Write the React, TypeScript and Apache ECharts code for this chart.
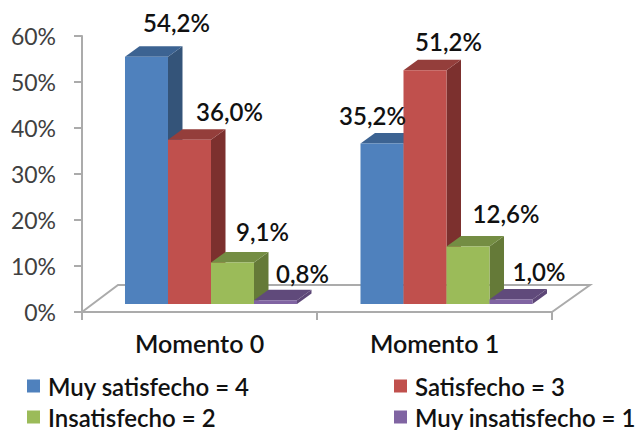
import React, { useEffect, useRef } from "react";
import * as echarts from "echarts";

const categories = ["Momento 0", "Momento 1"];
const yTicks = { min: 0, max: 60, interval: 10 };
const muySatisfecho = [54.2, 35.2];
const satisfecho = [36.0, 51.2];
const insatisfecho = [9.1, 12.6];
const muyInsatisfecho = [0.8, 1.0];
const seriesNames = ["Muy satisfecho = 4", "Satisfecho = 3", "Insatisfecho = 2", "Muy insatisfecho = 1"];
const seriesValues = [muySatisfecho, satisfecho, insatisfecho, muyInsatisfecho];

const faceColors = [
  { front: "#4f81bd", top: "#3c6392", side: "#345479" },
  { front: "#c0504d", top: "#943e3b", side: "#7c302e" },
  { front: "#9bbb59", top: "#748d43", side: "#657a38" },
  { front: "#8064a2", top: "#604a7b", side: "#5d4777" },
];

// label nudges [dx, dy] from each bar's top-centre, per series then per category
const labelNudges = [
  [[30, -34], [-9.5, -28]],
  [[40, -28], [23.5, -29]],
  [[30, -31], [38, -33]],
  [[27, -27], [28, -28]],
];

const FONT = "Lato, 'Noto Sans', sans-serif";
const AXIS_GRAY = "#ababab";

function fmt(v: number) {
  return v.toFixed(1).replace(".", ",") + "%";
}

function barRenderer(seriesIndex: number) {
  return (params: any, api: any) => {
    const cat = api.value(0);
    const val = api.value(1);
    const zero = api.coord([cat, 0]);
    const top = api.coord([cat, val]);
    const band = api.size([1, 0])[0];
    const w = band * 0.183;
    const floorDx = 11.5 + cat * 0.5;
    const floorDy = -8;
    const depthX = 14.5;
    const depthY = -10.5;
    const x0 = zero[0] + floorDx + (seriesIndex - 2) * w;
    const x1 = x0 + w;
    const yb = zero[1] + floorDy;
    const yt = yb - (zero[1] - top[1]) * 0.992;
    const c = faceColors[seriesIndex];
    const nudge = labelNudges[seriesIndex][cat];
    return {
      type: "group",
      children: [
        {
          type: "polygon",
          shape: { points: [[x1, yb], [x1 + depthX, yb + depthY], [x1 + depthX, yt + depthY], [x1, yt]] },
          style: { fill: c.side },
        },
        {
          type: "polygon",
          shape: { points: [[x0, yt], [x1, yt], [x1 + depthX, yt + depthY], [x0 + depthX, yt + depthY]] },
          style: { fill: c.top },
        },
        {
          type: "rect",
          shape: { x: x0, y: yt, width: w, height: yb - yt },
          style: { fill: c.front },
        },
        {
          type: "text",
          z2: 100,
          style: {
            x: x0 + w / 2 + nudge[0],
            y: yt + nudge[1],
            text: fmt(val),
            align: "center",
            verticalAlign: "middle",
            fill: "#111111",
            font: `600 24px ${FONT}`,
          },
        },
      ],
    };
  };
}

function floorRenderer(params: any, api: any) {
  const a = api.coord([0, 0]);
  const b = api.coord([1, 0]);
  const band = api.size([1, 0])[0];
  const left = a[0] - band / 2;
  const right = b[0] + band / 2;
  const y = a[1];
  return {
    type: "polyline",
    shape: { points: [[left, y], [left + 36, y - 27], [right + 38, y - 27], [right, y]] },
    style: { stroke: AXIS_GRAY, lineWidth: 2, fill: "none" },
  };
}

const legendText = {
  fontSize: 24,
  fontWeight: 600,
  fontFamily: FONT,
  color: "#111111",
  lineHeight: 26,
  padding: [0, 0, 0, 3],
};

export default function App() {
  const ref = useRef<HTMLDivElement>(null);
  useEffect(() => {
    const chart = echarts.init(ref.current!, undefined, { renderer: "svg" });
    chart.setOption({
      animation: false,
      backgroundColor: "#ffffff",
      textStyle: { fontFamily: FONT },
      grid: { left: 82, right: 91, top: 36, bottom: 118, containLabel: false },
      legend: [
        {
          data: [seriesNames[0], seriesNames[2]],
          orient: "vertical",
          left: 27,
          top: 373,
          padding: 0,
          itemWidth: 13,
          itemHeight: 13,
          itemGap: 5,
          icon: "rect",
          textStyle: legendText,
        },
        {
          data: [seriesNames[1], seriesNames[3]],
          orient: "vertical",
          left: 394,
          top: 373,
          padding: 0,
          itemWidth: 13,
          itemHeight: 13,
          itemGap: 5,
          icon: "rect",
          textStyle: legendText,
        },
      ],
      xAxis: {
        type: "category",
        data: categories,
        axisLine: { lineStyle: { color: AXIS_GRAY, width: 2 } },
        axisTick: { show: true, length: 8, alignWithLabel: false, lineStyle: { color: AXIS_GRAY, width: 2 } },
        axisLabel: { fontSize: 25, color: "#111111", margin: 18, fontFamily: FONT, fontWeight: 600 },
      },
      yAxis: {
        type: "value",
        min: yTicks.min,
        max: yTicks.max,
        interval: yTicks.interval,
        splitLine: { show: false },
        axisLine: { show: true, lineStyle: { color: AXIS_GRAY, width: 2 } },
        axisTick: { show: true, length: 8, lineStyle: { color: AXIS_GRAY, width: 2 } },
        axisLabel: { formatter: "{value}%", fontSize: 23, color: "#404040", margin: 26, fontFamily: FONT },
      },
      series: [
        {
          type: "custom",
          name: "floor",
          silent: true,
          z: 1,
          renderItem: floorRenderer,
          data: [[0, 0]],
          encode: { x: 0, y: 1 },
        },
        ...seriesValues.map((vals, si) => ({
          type: "custom",
          name: seriesNames[si],
          z: 3,
          itemStyle: { color: faceColors[si].front },
          renderItem: barRenderer(si),
          data: vals.map((v, i) => [i, v]),
          encode: { x: 0, y: 1 },
        })),
      ],
    });
    return () => chart.dispose();
  }, []);
  return <div ref={ref} style={{ position: "absolute", left: 0, top: 0, width: 643, height: 430 }} />;
}
